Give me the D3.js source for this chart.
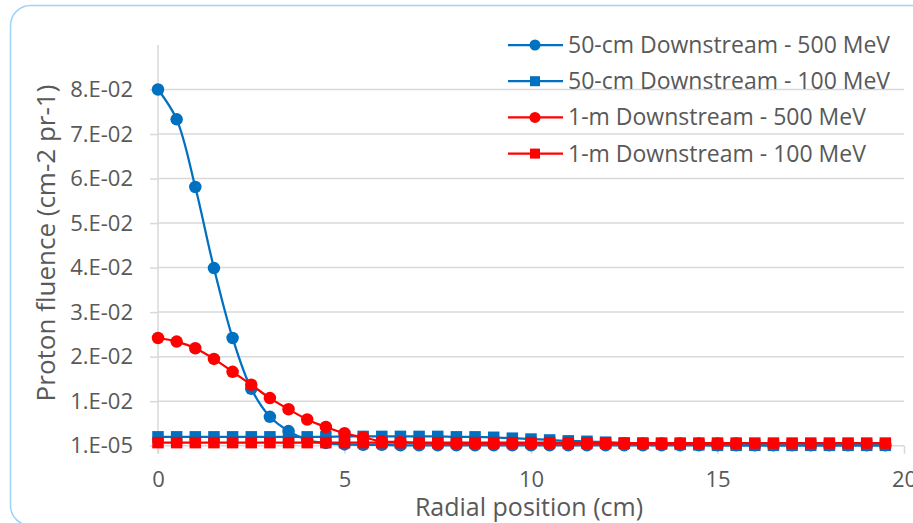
<!DOCTYPE html>
<html>
<head>
<meta charset="utf-8">
<script src="https://cdn.jsdelivr.net/npm/d3@7"></script>
<style>
body { margin: 0; background: #fff; }
svg text { font-family: "Open Sans", "Noto Sans", sans-serif; fill: #595959; }
</style>
</head>
<body>
<svg id="chart" width="913" height="523"></svg>
<script>
// radial positions (cm)
var xs = [0, 0.5, 1, 1.5, 2, 2.5, 3, 3.5, 4, 4.5, 5, 5.5, 6, 6.5, 7, 7.5, 8, 8.5, 9, 9.5,
          10, 10.5, 11, 11.5, 12, 12.5, 13, 13.5, 14, 14.5, 15, 15.5, 16, 16.5, 17, 17.5, 18, 18.5, 19, 19.5];

var cm50_500 = [0.0800, 0.0733, 0.0581, 0.0399, 0.0242, 0.0128, 0.0065, 0.0033, 0.0013, 0.0006,
                0.0003, 0.0002, 0.0002, 0.0001, 0.0001, 0.0001, 0.0001, 0.0001, 0.0001, 0.0001,
                0.0001, 0.0001, 0.0001, 0.0001, 0.0001, 0.0001, 0.0001, 0.0001, 0.0001, 0.0001,
                0.0001, 0.0001, 0.0001, 0.0001, 0.0001, 0.0001, 0.0001, 0.0001, 0.0001, 0.0001];

var cm50_100 = [0.0020, 0.0020, 0.0020, 0.0020, 0.0020, 0.0020, 0.0020, 0.0020, 0.0020, 0.0020,
                0.0021, 0.0021, 0.0021, 0.0021, 0.0021, 0.0021, 0.0020, 0.0020, 0.0019, 0.0017,
                0.0015, 0.0013, 0.0011, 0.0010, 0.0008, 0.0006, 0.0005, 0.0004, 0.0003, 0.0002,
                0.0001, 0.0001, 0.0001, 0.0001, 0.0001, 0.0001, 0.0001, 0.0001, 0.0001, 0.0001];

var m1_500 = [0.0242, 0.0234, 0.0219, 0.0195, 0.0166, 0.0137, 0.0107, 0.0082, 0.0059, 0.0042,
              0.0028, 0.0019, 0.0010, 0.0008, 0.0006, 0.0005, 0.0005, 0.0005, 0.0005, 0.0005,
              0.0005, 0.0005, 0.0005, 0.0005, 0.0005, 0.0005, 0.0005, 0.0005, 0.0005, 0.0005,
              0.0005, 0.0005];

var m1_100 = [0.0007, 0.0007, 0.0007, 0.0007, 0.0007, 0.0007, 0.0007, 0.0007, 0.0007, 0.0007,
              0.0007, 0.0007, 0.0007, 0.0007, 0.0007, 0.0007, 0.0007, 0.0007, 0.0007, 0.0007,
              0.0007, 0.0007, 0.0006, 0.0006, 0.0006, 0.0006, 0.0006, 0.0006, 0.0006, 0.0006,
              0.0006, 0.0006, 0.0006, 0.0006, 0.0006, 0.0006, 0.0006, 0.0006, 0.0006, 0.0006];

var yTicks = [0.00001, 0.01001, 0.02001, 0.03001, 0.04001, 0.05001, 0.06001, 0.07001, 0.08001];
var yTickLabels = ["1.E-05", "1.E-02", "2.E-02", "3.E-02", "4.E-02", "5.E-02", "6.E-02", "7.E-02", "8.E-02"];
var xTicks = [0, 5, 10, 15, 20];

var seriesNames = ["50-cm Downstream - 500 MeV", "50-cm Downstream - 100 MeV",
                   "1-m Downstream - 500 MeV", "1-m Downstream - 100 MeV"];
var seriesColors = ["#0070C0", "#0070C0", "#FF0000", "#FF0000"];
var seriesMarkers = ["circle", "square", "circle", "square"];
var seriesValues = [cm50_500, cm50_100, m1_500, m1_100];

var svg = d3.select("#chart");

// outer frame
svg.append("rect")
    .attr("x", 10.5).attr("y", 5.5)
    .attr("width", 940).attr("height", 520)
    .attr("rx", 20)
    .attr("fill", "none")
    .attr("stroke", "#9DD3F5")
    .attr("stroke-width", 1.5);

var plotL = 158, plotR = 904, plotT = 45, plotB = 445.7;

var x = d3.scaleLinear().domain([0, 20]).range([plotL, plotR]);
var y = d3.scaleLinear().domain([0.00001, 0.09]).range([plotB, plotT]);

// gridlines
svg.append("g")
    .selectAll("line")
    .data(yTicks.slice(1))
    .enter()
    .append("line")
    .attr("x1", plotL).attr("x2", plotR)
    .attr("y1", function(d){ return y(d); })
    .attr("y2", function(d){ return y(d); })
    .attr("stroke", "#D9D9D9")
    .attr("stroke-width", 1.5);

// y axis
var yAxis = d3.axisLeft(y)
    .tickValues(yTicks)
    .tickSize(8)
    .tickPadding(17)
    .tickFormat(function(d, i){ return yTickLabels[i]; });

var gy = svg.append("g")
    .attr("transform", "translate(" + plotL + ",0)")
    .call(yAxis);
gy.select(".domain").attr("stroke", "#D9D9D9").attr("stroke-width", 1.5)
    .attr("d", "M0," + (plotB + 8) + "V" + plotT);
gy.selectAll(".tick line").attr("stroke", "#D9D9D9").attr("stroke-width", 1.5);
gy.selectAll(".tick text").style("font-size", "22px").attr("fill", "#595959");

// x axis
var xAxis = d3.axisBottom(x)
    .tickValues(xTicks)
    .tickSize(8)
    .tickPadding(18);

var gx = svg.append("g")
    .attr("transform", "translate(0," + plotB + ")")
    .call(xAxis);
gx.select(".domain").attr("stroke", "#D9D9D9").attr("stroke-width", 1.5)
    .attr("d", "M" + plotL + ",0H" + plotR);
gx.selectAll(".tick line").attr("stroke", "#D9D9D9").attr("stroke-width", 1.5);
gx.selectAll(".tick text").style("font-size", "22px").attr("fill", "#595959");

// axis titles
svg.append("text")
    .attr("x", 529).attr("y", 516)
    .attr("text-anchor", "middle")
    .style("font-size", "25px")
    .text("Radial position (cm)");

svg.append("text")
    .attr("transform", "translate(55,243) rotate(-90)")
    .attr("text-anchor", "middle")
    .style("font-size", "26px")
    .text("Proton fluence (cm-2 pr-1)");

// series
var line = d3.line()
    .x(function(d){ return x(d[0]); })
    .y(function(d){ return y(d[1]); })
    .curve(d3.curveCatmullRom.alpha(0.5));

function drawMarker(g, kind, color, cx, cy, size) {
    if (kind === "circle") {
        g.append("circle").attr("cx", cx).attr("cy", cy).attr("r", size / 2)
            .attr("fill", color);
    } else {
        g.append("rect").attr("x", cx - size / 2).attr("y", cy - size / 2)
            .attr("width", size).attr("height", size).attr("fill", color);
    }
}

for (var s = 0; s < seriesValues.length; s++) {
    var pts = seriesValues[s].map(function(v, i){ return [xs[i], v]; });
    var g = svg.append("g");
    g.append("path")
        .attr("d", line(pts))
        .attr("fill", "none")
        .attr("stroke", seriesColors[s])
        .attr("stroke-width", 2.25);
    for (var i = 0; i < pts.length; i++) {
        drawMarker(g, seriesMarkers[s], seriesColors[s], x(pts[i][0]), y(pts[i][1]),
                   seriesMarkers[s] === "circle" ? 12.5 : 11.5);
    }
}

// legend
var legend = svg.append("g").attr("transform", "translate(508,45)");
for (var k = 0; k < seriesNames.length; k++) {
    var lg = legend.append("g").attr("transform", "translate(0," + (k * 36.2) + ")");
    lg.append("line").attr("x1", 0).attr("x2", 55).attr("y1", 0).attr("y2", 0)
        .attr("stroke", seriesColors[k]).attr("stroke-width", 2.25);
    drawMarker(lg, seriesMarkers[k], seriesColors[k], 27, 0, seriesMarkers[k] === "circle" ? 11 : 10);
    lg.append("text")
        .attr("x", 60).attr("y", 0).attr("dy", "0.35em")
        .style("font-size", "23px")
        .text(seriesNames[k]);
}
</script>
</body>
</html>
